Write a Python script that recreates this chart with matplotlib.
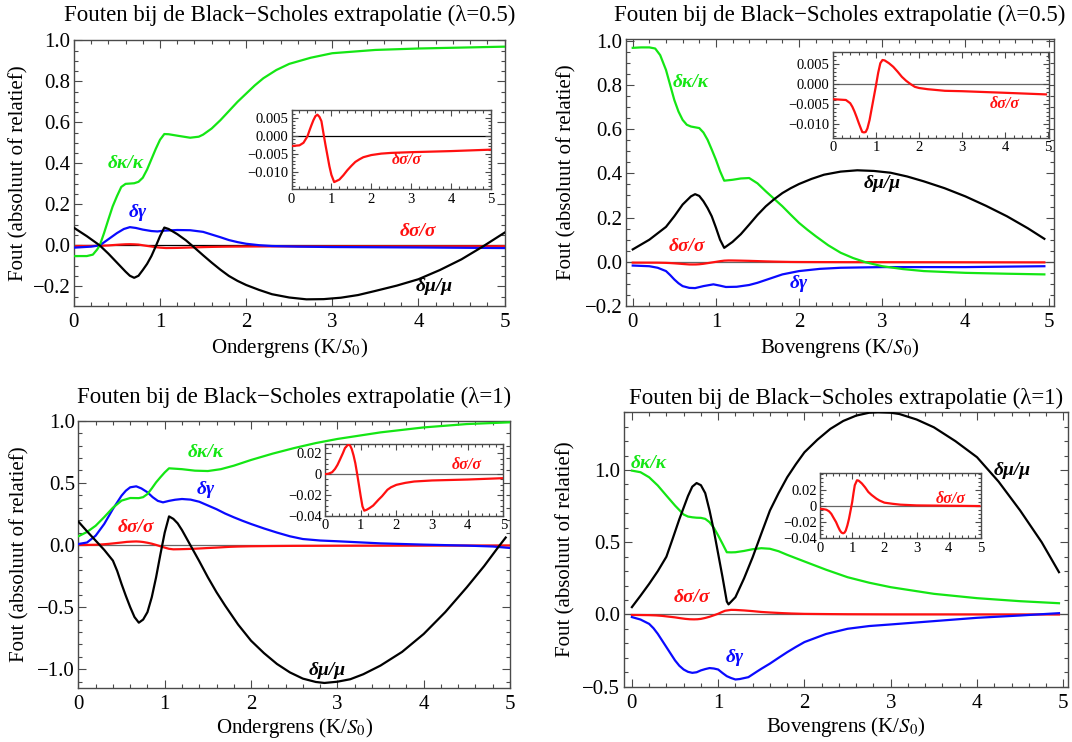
import matplotlib
matplotlib.use("Agg")
from matplotlib import pyplot as plt
from matplotlib.ticker import MultipleLocator

plt.rcParams['font.family'] = ['Liberation Serif', 'DejaVu Serif']
plt.rcParams['mathtext.fontset'] = 'stix'

# ---- data ----
# panel 1: ondergrens, lambda = 0.5
p1_x_green = [0, 0.15, 0.22, 0.27, 0.3, 0.35, 0.4, 0.45, 0.5, 0.55, 0.6, 0.7, 0.75, 0.8, 0.85, 0.9, 0.95, 1.0, 1.05, 1.1, 1.2, 1.35, 1.45,
              1.5, 1.6, 1.7, 1.8, 1.9, 2.0, 2.1, 2.2, 2.35, 2.5, 2.75, 3.0, 3.5, 4.0, 5.0]
p1_green = [-0.052, -0.052, -0.045, -0.02, 0.0, 0.06, 0.126, 0.19, 0.24, 0.285, 0.30, 0.303, 0.31, 0.33, 0.37, 0.42, 0.47, 0.515, 0.543, 0.542, 0.535, 0.525, 0.53,
            0.54, 0.57, 0.61, 0.655, 0.70, 0.74, 0.78, 0.815, 0.855, 0.885, 0.915, 0.937, 0.953, 0.96, 0.969]
p1_x_black = [0, 0.15, 0.3, 0.4, 0.5, 0.6, 0.65, 0.7, 0.75, 0.8, 0.85, 0.9, 0.95, 1.0, 1.05, 1.1, 1.2, 1.3, 1.4, 1.5, 1.6, 1.7, 1.8, 1.9, 2.0,
              2.15, 2.3, 2.5, 2.7, 2.9, 3.1, 3.3, 3.5, 3.75, 4.0, 4.25, 4.5, 4.75, 5.0]
p1_black = [0.086, 0.045, 0.0, -0.04, -0.084, -0.128, -0.148, -0.158, -0.148, -0.12, -0.09, -0.052, -0.005, 0.045, 0.087, 0.08, 0.055, 0.025, -0.011, -0.048, -0.084, -0.118, -0.149, -0.173, -0.193,
            -0.217, -0.238, -0.254, -0.263, -0.262, -0.255, -0.242, -0.222, -0.196, -0.165, -0.12, -0.068, -0.005, 0.062]
p1_x_blue = [0, 0.2, 0.3, 0.4, 0.5, 0.58, 0.65, 0.72, 0.8, 0.9, 0.97, 1.05, 1.2, 1.35, 1.5, 1.6, 1.7, 1.8, 1.9, 2.0, 2.15, 2.3, 2.6, 3.0, 4.0, 5.0]
p1_blue = [-0.011, -0.006, 0.0, 0.03, 0.06, 0.08, 0.089, 0.085, 0.077, 0.07, 0.068, 0.072, 0.075, 0.074, 0.066, 0.053, 0.04, 0.026, 0.016, 0.008, 0.001, -0.003, -0.006, -0.008, -0.010, -0.013]
p1_x_red = [0, 0.2, 0.3, 0.4, 0.45, 0.5, 0.55, 0.6, 0.65, 0.7, 0.75, 0.8, 0.85, 0.9, 0.95, 1.0, 1.07, 1.2, 1.3, 1.4, 1.5, 1.6, 1.7, 1.8, 2.0, 2.25, 2.5, 3.0, 4.0, 5.0]
p1_red = [-0.0029, -0.0027, -0.002, -0.0002, 0.0014, 0.0029, 0.0043, 0.0054, 0.0058, 0.0052, 0.004, 0.0007, -0.0025, -0.0055, -0.0085, -0.0109, -0.0129, -0.0122, -0.011, -0.0096, -0.0084, -0.0073, -0.0066, -0.006, -0.0054, -0.005, -0.0048, -0.0046, -0.0043, -0.0039]

# panel 2: bovengrens, lambda = 0.5
p2_x_green = [0, 0.1, 0.2, 0.27, 0.33, 0.4, 0.45, 0.5, 0.55, 0.6, 0.65, 0.7, 0.8, 0.85, 0.9, 0.95, 1.0, 1.05, 1.1, 1.2, 1.3, 1.4, 1.5, 1.6, 1.7, 1.8, 1.9,
              2.0, 2.1, 2.2, 2.35, 2.5, 2.65, 2.8, 3.0, 3.25, 3.5, 4.0, 4.5, 4.95]
p2_green = [0.968, 0.97, 0.97, 0.965, 0.935, 0.868, 0.8, 0.732, 0.68, 0.642, 0.62, 0.612, 0.605, 0.585, 0.552, 0.508, 0.462, 0.41, 0.367, 0.371, 0.377, 0.379, 0.355, 0.319, 0.285, 0.251, 0.213,
            0.176, 0.145, 0.116, 0.075, 0.041, 0.017, -0.002, -0.02, -0.033, -0.042, -0.05, -0.054, -0.057]
p2_x_black = [0, 0.2, 0.4, 0.5, 0.6, 0.7, 0.75, 0.8, 0.85, 0.9, 0.95, 1.0, 1.05, 1.1, 1.2, 1.3, 1.4, 1.5, 1.6, 1.7, 1.8, 1.9, 2.0,
              2.15, 2.3, 2.5, 2.7, 2.9, 3.1, 3.3, 3.5, 3.75, 4.0, 4.25, 4.5, 4.75, 4.95]
p2_black = [0.056, 0.10, 0.158, 0.206, 0.259, 0.296, 0.306, 0.298, 0.274, 0.243, 0.206, 0.155, 0.10, 0.063, 0.09, 0.125, 0.168, 0.212, 0.251, 0.283, 0.311, 0.333, 0.352,
            0.375, 0.394, 0.408, 0.414, 0.411, 0.403, 0.386, 0.364, 0.333, 0.296, 0.253, 0.206, 0.152, 0.104]
p2_x_blue = [0, 0.2, 0.3, 0.4, 0.45, 0.5, 0.55, 0.6, 0.68, 0.75, 0.85, 0.97, 1.05, 1.12, 1.25, 1.4, 1.5, 1.65, 1.8, 2.0, 2.25, 2.5, 3.0, 4.0, 4.95]
p2_blue = [-0.017, -0.02, -0.027, -0.042, -0.06, -0.08, -0.097, -0.11, -0.118, -0.119, -0.11, -0.102, -0.108, -0.114, -0.113, -0.105, -0.095, -0.076, -0.057, -0.042, -0.032, -0.027, -0.024, -0.024, -0.02]
p2_x_red = [0, 0.3, 0.4, 0.45, 0.5, 0.55, 0.6, 0.65, 0.68, 0.72, 0.76, 0.8, 0.85, 0.9, 0.95, 1.0, 1.05, 1.1, 1.15, 1.2, 1.3, 1.4, 1.5, 1.6, 1.7, 1.8, 1.9,
            2.0, 2.2, 2.6, 3.0, 4.0, 4.95]
p2_red = [-0.0038, -0.004, -0.0048, -0.0057, -0.0069, -0.0083, -0.0098, -0.0112, -0.012, -0.0121, -0.012, -0.0111, -0.009, -0.0061, -0.0032, -0.0003, 0.0028, 0.0052, 0.006, 0.0059, 0.0052, 0.0043, 0.0031, 0.0018, 0.0008, 0.0, -0.0007,
          -0.001, -0.0013, -0.0017, -0.0018, -0.0022, -0.0026]

# panel 3: ondergrens, lambda = 1
p3_x_green = [0, 0.1, 0.2, 0.3, 0.4, 0.5, 0.6, 0.7, 0.75, 0.8, 0.85, 0.9, 0.95, 1.0, 1.05, 1.2, 1.35, 1.5, 1.65, 1.8, 2.0, 2.25, 2.5, 2.75, 3.0, 3.5, 4.0, 4.5, 5.0]
p3_green = [0.07, 0.105, 0.155, 0.225, 0.30, 0.357, 0.378, 0.377, 0.385, 0.41, 0.455, 0.504, 0.545, 0.584, 0.617, 0.61, 0.598, 0.595, 0.61, 0.638, 0.684, 0.735, 0.78, 0.82, 0.853, 0.906, 0.946, 0.973, 0.987]
p3_x_blue = [0, 0.1, 0.2, 0.3, 0.4, 0.5, 0.55, 0.6, 0.67, 0.73, 0.8, 0.86, 0.92, 0.98, 1.05, 1.12, 1.2, 1.3, 1.4, 1.5, 1.6, 1.7, 1.8, 1.9, 2.0,
             2.15, 2.3, 2.45, 2.6, 2.8, 3.0, 3.5, 4.0, 4.5, 4.8, 5.0]
p3_blue = [0.008, 0.02, 0.075, 0.17, 0.29, 0.397, 0.437, 0.464, 0.472, 0.455, 0.424, 0.385, 0.355, 0.343, 0.355, 0.364, 0.37, 0.365, 0.348, 0.318, 0.288, 0.253, 0.223, 0.195, 0.169,
           0.133, 0.10, 0.07, 0.048, 0.036, 0.03, 0.013, 0.003, -0.005, -0.012, -0.024]
p3_x_black = [0, 0.1, 0.2, 0.3, 0.4, 0.45, 0.5, 0.55, 0.6, 0.65, 0.7, 0.75, 0.8, 0.85, 0.9, 0.95, 1.0, 1.05, 1.1, 1.15, 1.2, 1.3, 1.4, 1.5, 1.6, 1.7, 1.85,
              2.0, 2.15, 2.3, 2.45, 2.6, 2.75, 2.85, 3.0, 3.15, 3.3, 3.5, 3.75, 4.0, 4.25, 4.5, 4.7, 4.85, 4.95]
p3_black = [0.188, 0.11, 0.035, -0.04, -0.126, -0.21, -0.314, -0.41, -0.50, -0.58, -0.625, -0.6, -0.54, -0.42, -0.26, -0.075, 0.1, 0.23, 0.21, 0.174, 0.12, -0.005, -0.13, -0.26, -0.38, -0.488, -0.64,
            -0.77, -0.87, -0.957, -1.025, -1.075, -1.102, -1.11, -1.10, -1.08, -1.04, -0.97, -0.86, -0.716, -0.54, -0.34, -0.17, -0.03, 0.06]
p3_x_red = [0, 0.1, 0.2, 0.28, 0.35, 0.42, 0.5, 0.56, 0.62, 0.67, 0.71, 0.75, 0.8, 0.85, 0.9, 0.95, 1.0, 1.05, 1.1, 1.17, 1.25, 1.35, 1.5, 1.6, 1.75, 1.85,
            2.0, 2.25, 2.5, 3.0, 4.0, 5.0]
p3_red = [0.0, 0.0005, 0.0019, 0.005, 0.0089, 0.014, 0.02, 0.025, 0.0273, 0.0286, 0.027, 0.024, 0.018, 0.0105, 0.0005, -0.0102, -0.021, -0.0308, -0.0349, -0.034, -0.0324, -0.03, -0.0244, -0.021, -0.0149, -0.0125,
          -0.0102, -0.0083, -0.007, -0.006, -0.0051, -0.0038]

# panel 4: bovengrens, lambda = 1
p4_x_green = [0, 0.1, 0.2, 0.3, 0.4, 0.5, 0.6, 0.65, 0.7, 0.75, 0.8, 0.85, 0.9, 0.95, 1.0, 1.05, 1.1, 1.15, 1.2, 1.3, 1.4, 1.5, 1.6, 1.7, 1.8, 1.9,
              2.0, 2.25, 2.5, 2.75, 3.0, 3.5, 4.0, 4.5, 4.95]
p4_green = [0.996, 0.985, 0.95, 0.893, 0.823, 0.754, 0.692, 0.678, 0.673, 0.67, 0.669, 0.662, 0.639, 0.6, 0.547, 0.49, 0.431, 0.43, 0.431, 0.44, 0.452, 0.459, 0.455, 0.438, 0.413, 0.39,
            0.367, 0.31, 0.258, 0.22, 0.189, 0.143, 0.113, 0.092, 0.078]
p4_x_black = [0, 0.1, 0.2, 0.3, 0.4, 0.47, 0.55, 0.6, 0.65, 0.7, 0.75, 0.8, 0.85, 0.9, 0.95, 1.0, 1.05, 1.1, 1.12, 1.2, 1.3, 1.4, 1.5, 1.6, 1.7, 1.8, 1.9,
              2.0, 2.15, 2.3, 2.45, 2.6, 2.75, 2.85, 3.0, 3.1, 3.3, 3.5, 3.75, 4.0, 4.25, 4.5, 4.75, 4.95]
p4_black = [0.051, 0.13, 0.212, 0.30, 0.40, 0.52, 0.66, 0.74, 0.82, 0.885, 0.91, 0.895, 0.84, 0.72, 0.58, 0.42, 0.26, 0.09, 0.07, 0.12, 0.25, 0.397, 0.56, 0.72, 0.84, 0.95, 1.04,
            1.123, 1.21, 1.285, 1.34, 1.377, 1.397, 1.40, 1.397, 1.388, 1.35, 1.296, 1.2, 1.089, 0.92, 0.72, 0.5, 0.293]
p4_x_blue = [0, 0.1, 0.2, 0.25, 0.3, 0.35, 0.4, 0.45, 0.5, 0.55, 0.6, 0.65, 0.7, 0.75, 0.8, 0.85, 0.9, 0.95, 1.0, 1.05, 1.1, 1.15, 1.2, 1.25, 1.35, 1.45, 1.5,
             1.6, 1.7, 1.8, 1.9, 2.0, 2.25, 2.5, 2.75, 3.0, 3.5, 4.0, 4.5, 4.95]
p4_blue = [-0.018, -0.035, -0.065, -0.095, -0.134, -0.18, -0.226, -0.272, -0.318, -0.355, -0.381, -0.397, -0.404, -0.4, -0.387, -0.378, -0.371, -0.374, -0.381, -0.405, -0.427, -0.44, -0.45, -0.447, -0.434, -0.395, -0.376,
           -0.34, -0.3, -0.261, -0.225, -0.191, -0.135, -0.099, -0.08, -0.069, -0.046, -0.023, -0.007, 0.009]
p4_x_red = [0, 0.1, 0.2, 0.28, 0.35, 0.42, 0.5, 0.56, 0.62, 0.67, 0.72, 0.76, 0.8, 0.85, 0.9, 0.95, 1.0, 1.04, 1.08, 1.15, 1.2, 1.3, 1.4, 1.5, 1.6, 1.75, 1.85,
            2.0, 2.25, 2.5, 3.0, 4.0, 4.95]
p4_red = [-0.0033, -0.0038, -0.0046, -0.0065, -0.0096, -0.0145, -0.02, -0.0255, -0.0304, -0.033, -0.0338, -0.033, -0.0304, -0.024, -0.0158, -0.0055, 0.005, 0.016, 0.0258, 0.032, 0.0315, 0.028, 0.0232, 0.0175, 0.0138, 0.0092, 0.0068,
          0.0042, 0.0028, 0.0017, 0.0008, 0.0004, 0.0]

# tick labels
x_ticks = [0, 1, 2, 3, 4, 5]
x_ticklabels = ['0', '1', '2', '3', '4', '5']
y_ticks_a = [-0.2, 0.0, 0.2, 0.4, 0.6, 0.8, 1.0]
y_ticklabels_a = ['\u22120.2', '0.0', '0.2', '0.4', '0.6', '0.8', '1.0']
y_ticks_b = [-1.0, -0.5, 0.0, 0.5, 1.0]
y_ticklabels_b = ['\u22121.0', '\u22120.5', '0.0', '0.5', '1.0']
inset_ticks_a = [-0.010, -0.005, 0.0, 0.005]
inset_ticklabels_a = ['\u22120.010', '\u22120.005', '0.000', '0.005']
inset_ticks_b = [-0.04, -0.02, 0.0, 0.02]
inset_ticklabels_b = ['\u22120.04', '\u22120.02', '0', '0.02']

titles = ['Fouten bij de Black\u2212Scholes extrapolatie (\u03bb=0.5)',
          'Fouten bij de Black\u2212Scholes extrapolatie (\u03bb=0.5)',
          'Fouten bij de Black\u2212Scholes extrapolatie (\u03bb=1)',
          'Fouten bij de Black\u2212Scholes extrapolatie (\u03bb=1)']
xlabels = ['Ondergrens (K/$S_0$)', 'Bovengrens (K/$S_0$)',
           'Ondergrens (K/$S_0$)', 'Bovengrens (K/$S_0$)']
ylabel = 'Fout (absoluut of relatief)'

GREEN = '#14e614'
BLUE = '#0a0aff'
RED = '#ff1010'
BLACK = '#000000'
FRAME = '#4a4a4a'
LW = 1.6

fig = plt.figure(figsize=(10.72, 7.42), dpi=100)
W, H = 1072, 742


def px_axes(x0, y0, x1, y1):
    # pixel box (top-left origin) -> figure axes
    return fig.add_axes([x0 / W, 1 - y1 / H, (x1 - x0) / W, (y1 - y0) / H])


def style(ax, size, yminor, zero_col, small=False):
    for s in ax.spines.values():
        s.set_color(FRAME)
        s.set_linewidth(1.0)
    ax.xaxis.set_minor_locator(MultipleLocator(0.2))
    ax.yaxis.set_minor_locator(MultipleLocator(yminor))
    ax.tick_params(which='both', direction='in', top=True, right=True, color=FRAME, width=0.8)
    ax.tick_params(which='major', length=4 if small else 6, labelsize=size, pad=2.5)
    ax.tick_params(which='minor', length=2 if small else 3)
    ax.tick_params(axis='x', which='major', pad=2.5 if small else 5)
    ax.axhline(0, color=zero_col, lw=0.9, zorder=1)


def label(ax, x, y, text, col, size=14):
    ax.text(x, y, text, color=col, fontsize=size, fontweight='bold', fontstyle='italic',
            ha='center', va='center')


panels = [
    dict(box=(73.9, 40.3, 504.5, 305.7), ibox=(291.5, 110, 491, 189.3),
         xlim=(0, 5), ylim=(-0.294, 1.0), ixlim=(0, 5), iylim=(-0.0149, 0.0071),
         yt=(y_ticks_a, y_ticklabels_a), it=(inset_ticks_a, inset_ticklabels_a),
         ymin=0.05, iymin=0.001, zero='#000000', tity=15, ylx=19, xly=348),
    dict(box=(626, 39, 1053.5, 306), ibox=(833, 52, 1049, 138),
         xlim=(-0.081, 5.06), ylim=(-0.2, 1.008), ixlim=(0, 5.02), iylim=(-0.0135, 0.008),
         yt=(y_ticks_a, y_ticklabels_a), it=(inset_ticks_a, inset_ticklabels_a),
         ymin=0.05, iymin=0.001, zero='#666666', tity=15, ylx=567, xly=348),
    dict(box=(78.4, 420.7, 510, 688.3), ibox=(325, 444.3, 503.4, 516),
         xlim=(0, 5), ylim=(-1.153, 1.0), ixlim=(0, 5), iylim=(-0.04, 0.0286),
         yt=(y_ticks_b, y_ticklabels_b), it=(inset_ticks_b, inset_ticklabels_b),
         ymin=0.1, iymin=0.005, zero='#666666', tity=397, ylx=20, xly=728),
    dict(box=(623.7, 411.7, 1067.6, 686.7), ibox=(820, 473.3, 981, 538.3),
         xlim=(-0.095, 5.05), ylim=(-0.5, 1.404), ixlim=(0, 5), iylim=(-0.04, 0.0406),
         yt=(y_ticks_b, y_ticklabels_b), it=(inset_ticks_b, inset_ticklabels_b),
         ymin=0.1, iymin=0.005, zero='#666666', tity=398, ylx=566, xly=727),
]

curves = [
    (p1_x_green, p1_green, p1_x_blue, p1_blue, p1_x_black, p1_black, p1_x_red, p1_red),
    (p2_x_green, p2_green, p2_x_blue, p2_blue, p2_x_black, p2_black, p2_x_red, p2_red),
    (p3_x_green, p3_green, p3_x_blue, p3_blue, p3_x_black, p3_black, p3_x_red, p3_red),
    (p4_x_green, p4_green, p4_x_blue, p4_blue, p4_x_black, p4_black, p4_x_red, p4_red),
]

# curve label positions (data coords): kappa, gamma, sigma, mu, inset sigma
label_pos = [
    [(0.6, 0.40), (0.74, 0.16), (3.99, 0.066), (4.19, -0.198), (2.9, -0.0069)],
    [(0.70, 0.81), (2.0, -0.10), (0.65, 0.07), (3.0, 0.352), (4.0, -0.005)],
    [(1.48, 0.745), (1.48, 0.45), (0.67, 0.142), (2.88, -1.01), (3.98, 0.0089)],
    [(0.19, 1.047), (1.19, -0.30), (0.69, 0.12), (4.41, 0.996), (4.06, 0.0092)],
]

for i, p in enumerate(panels):
    xg, g, xb, b, xk, k, xr, r = curves[i]
    ax = px_axes(*p['box'])
    style(ax, 15, p['ymin'], p['zero'])
    ax.plot(xr, r, color=RED, lw=LW, zorder=2)
    ax.plot(xb, b, color=BLUE, lw=LW, zorder=3)
    ax.plot(xg, g, color=GREEN, lw=LW, zorder=3)
    ax.plot(xk, k, color=BLACK, lw=LW, zorder=4)
    ax.set_xticks(x_ticks)
    ax.set_xticklabels(x_ticklabels)
    ax.set_yticks(p['yt'][0])
    ax.set_yticklabels(p['yt'][1])
    ax.set_xlim(*p['xlim'])
    ax.set_ylim(*p['ylim'])

    lp = label_pos[i]
    label(ax, *lp[0], '\u03b4\u03ba/\u03ba', GREEN)
    label(ax, *lp[1], '\u03b4\u03b3', BLUE)
    label(ax, *lp[2], '\u03b4\u03c3/\u03c3', RED)
    label(ax, *lp[3], '\u03b4\u03bc/\u03bc', BLACK)

    x0, y0, x1, y1 = p['box']
    h = y1 - y0
    ax.set_title(titles[i], fontsize=16.5, pad=0, y=1 + (y0 - p['tity']) / h, va='center')
    ax.set_xlabel(xlabels[i], fontsize=15, va='center')
    ax.xaxis.set_label_coords(0.5, -(p['xly'] - y1) / h)
    ax.set_ylabel(ylabel, fontsize=15, va='center')
    ax.yaxis.set_label_coords((p['ylx'] - x0) / (x1 - x0), 0.5)

    # inset with the sigma error
    ins = px_axes(*p['ibox'])
    ins.set_facecolor('white')
    ins.set_zorder(5)
    style(ins, 10.5, p['iymin'], p['zero'], small=True)
    ins.plot(xr, r, color=RED, lw=LW, zorder=3)
    ins.set_xticks(x_ticks)
    ins.set_xticklabels(x_ticklabels)
    ins.set_yticks(p['it'][0])
    ins.set_yticklabels(p['it'][1])
    ins.set_xlim(*p['ixlim'])
    ins.set_ylim(*p['iylim'])
    label(ins, *lp[4], '\u03b4\u03c3/\u03c3', RED, size=11.5)

fig.savefig('out.png', dpi=100)
